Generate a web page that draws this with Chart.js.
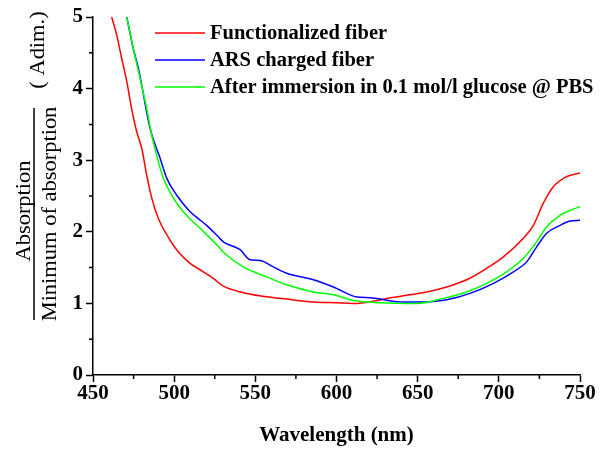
<!DOCTYPE html>
<html>
<head>
<meta charset="utf-8">
<script src="https://cdn.jsdelivr.net/npm/chart.js@4.4.1/dist/chart.umd.min.js"></script>
<style>
  body { margin: 0; background: #fff; }
</style>
</head>
<body>
<canvas id="grafico" width="612" height="449"></canvas>
<script>
var seriesNames = ['Functionalized fiber', 'ARS charged fiber', 'After immersion in 0.1 mol/l glucose @ PBS'];
var seriesColors = ['#ff0000', '#0000ff', '#00ff00'];

// Functionalized fiber
var functWl  = [461.5, 464.6, 467.7, 470.8, 473.8, 476.9, 480.0, 483.1, 486.2, 490.2, 495.4, 502.5, 509.8, 515.9, 524.1, 530.3, 542.6, 554.9, 569.3, 585.7, 600.0, 612.5, 625.0, 630.9, 645.3, 655.6, 667.9, 680.2, 692.5, 702.8, 715.1, 721.3, 727.4, 733.6, 741.8, 746.0, 750.0];
var functVal = [5.00, 4.75, 4.42, 4.10, 3.72, 3.40, 3.17, 2.79, 2.47, 2.19, 1.96, 1.72, 1.56, 1.47, 1.35, 1.24, 1.15, 1.10, 1.06, 1.02, 1.01, 1.00, 1.04, 1.07, 1.12, 1.16, 1.23, 1.33, 1.49, 1.65, 1.91, 2.09, 2.40, 2.63, 2.77, 2.80, 2.82];

// ARS charged fiber
var arsWl  = [470.8, 474.8, 477.9, 485.1, 491.3, 495.4, 501.6, 509.8, 514.5, 520.0, 527.2, 530.3, 540.6, 546.7, 552.9, 561.1, 569.3, 585.7, 598.1, 612.5, 620.6, 626.8, 639.1, 655.6, 667.9, 682.3, 696.7, 709.0, 717.2, 723.3, 729.5, 737.7, 743.9, 750.0];
var arsVal = [5.00, 4.56, 4.29, 3.45, 3.03, 2.75, 2.51, 2.28, 2.19, 2.09, 1.93, 1.86, 1.75, 1.61, 1.60, 1.51, 1.42, 1.33, 1.23, 1.09, 1.08, 1.06, 1.02, 1.02, 1.05, 1.14, 1.28, 1.44, 1.58, 1.79, 1.98, 2.09, 2.15, 2.16];

// After immersion in glucose
var glucWl  = [470.8, 474.8, 479.0, 483.1, 486.2, 489.2, 493.3, 498.5, 505.6, 515.9, 526.2, 531.0, 542.6, 557.0, 569.3, 585.7, 598.1, 610.4, 626.8, 649.4, 665.8, 680.2, 692.5, 704.8, 715.1, 723.3, 729.5, 737.7, 744.0, 750.0];
var glucVal = [5.00, 4.56, 4.14, 3.72, 3.35, 3.07, 2.75, 2.51, 2.28, 2.05, 1.82, 1.70, 1.51, 1.37, 1.26, 1.16, 1.12, 1.04, 1.01, 1.00, 1.07, 1.16, 1.28, 1.44, 1.63, 1.86, 2.07, 2.23, 2.30, 2.35];

var xMinorTicks = [475, 525, 575, 625, 675, 725];
var yMinorTicks = [0.5, 1.5, 2.5, 3.5, 4.5];

function toPoints(wl, val) {
    var pts = [];
    for (var i = 0; i < wl.length; i++) {
        pts.push({ x: wl[i], y: val[i] });
    }
    return pts;
}

Chart.defaults.font.family = '"Liberation Serif", "Times New Roman", serif';
Chart.defaults.color = '#000';

// leyenda dentro del area
var leyenda = {
    id: 'leyenda',
    afterDatasetsDraw: function (chart) {
        var ctx = chart.ctx;
        ctx.save();
        ctx.font = 'bold 20.5px "Liberation Serif"';
        ctx.textBaseline = 'middle';
        ctx.textAlign = 'left';
        chart.data.datasets.forEach(function (ds, i) {
            var y = 33 + i * 27;
            ctx.strokeStyle = ds.borderColor;
            ctx.lineWidth = 1.5;
            ctx.beginPath();
            ctx.moveTo(155, y);
            ctx.lineTo(205, y);
            ctx.stroke();
            ctx.fillStyle = '#000';
            ctx.fillText(ds.label, 210, y + 1);
        });
        ctx.restore();
    }
};

// ticks menores y titulos de ejes
var ejes = {
    id: 'ejes',
    afterDraw: function (chart) {
        var ctx = chart.ctx,
            xs = chart.scales.x,
            ys = chart.scales.y,
            area = chart.chartArea;
        ctx.save();
        ctx.strokeStyle = '#000';
        ctx.lineWidth = 1.5;
        ctx.beginPath();
        xMinorTicks.forEach(function (v) {
            var px = xs.getPixelForValue(v);
            ctx.moveTo(px, area.bottom);
            ctx.lineTo(px, area.bottom + 4);
        });
        yMinorTicks.forEach(function (v) {
            var py = ys.getPixelForValue(v);
            ctx.moveTo(area.left - 4, py);
            ctx.lineTo(area.left, py);
        });
        ctx.stroke();

        // titulo eje x
        ctx.fillStyle = '#000';
        ctx.font = 'bold 21px "Liberation Serif"';
        ctx.textAlign = 'center';
        ctx.textBaseline = 'middle';
        ctx.fillText('Wavelength (nm)', (area.left + area.right) / 2, 436);

        // titulo eje y (fraccion)
        ctx.font = '21px "Liberation Serif"';
        ctx.textBaseline = 'alphabetic';
        ctx.save();
        ctx.translate(30, 211);
        ctx.rotate(-Math.PI / 2);
        ctx.scale(1.07, 1);
        ctx.fillText('Absorption', 0, 0);
        ctx.restore();

        ctx.save();
        ctx.translate(55.5, 214);
        ctx.rotate(-Math.PI / 2);
        ctx.scale(1.07, 1);
        ctx.fillText('Minimum of absorption', 0, 0);
        ctx.restore();

        ctx.save();
        ctx.translate(44, 50);
        ctx.rotate(-Math.PI / 2);
        ctx.scale(1.07, 1);
        ctx.fillText('( Adim.)', 0, 0);
        ctx.restore();

        ctx.lineWidth = 1.5;
        ctx.beginPath();
        ctx.moveTo(34, 108);
        ctx.lineTo(34, 320);
        ctx.stroke();
        ctx.restore();
    }
};

new Chart(document.getElementById('grafico'), {
    type: 'line',
    data: {
        datasets: [{
            label: seriesNames[0],
            data: toPoints(functWl, functVal),
            borderColor: seriesColors[0],
            order: 2
        }, {
            label: seriesNames[1],
            data: toPoints(arsWl, arsVal),
            borderColor: seriesColors[1],
            order: 1
        }, {
            label: seriesNames[2],
            data: toPoints(glucWl, glucVal),
            borderColor: seriesColors[2],
            order: 0
        }]
    },
    options: {
        responsive: false,
        animation: false,
        layout: {
            padding: { left: 0, right: 32, top: 17, bottom: 0 }
        },
        elements: {
            point: { radius: 0 },
            line: { borderWidth: 1.5, cubicInterpolationMode: 'monotone', fill: false }
        },
        scales: {
            x: {
                type: 'linear',
                min: 450,
                max: 750,
                afterFit: function (scale) { scale.height = 74; },
                ticks: {
                    stepSize: 50,
                    padding: 1,
                    font: { size: 21, weight: 'bold', lineHeight: 1 }
                },
                grid: {
                    drawOnChartArea: false,
                    tickLength: 7,
                    tickWidth: 1.5,
                    tickColor: '#000'
                },
                border: { color: '#000', width: 1.5 }
            },
            y: {
                min: 0,
                max: 5,
                afterFit: function (scale) { scale.width = 93; },
                ticks: {
                    stepSize: 1,
                    padding: 3,
                    font: { size: 21, weight: 'bold', lineHeight: 1 }
                },
                grid: {
                    drawOnChartArea: false,
                    tickLength: 7,
                    tickWidth: 1.5,
                    tickColor: '#000'
                },
                border: { color: '#000', width: 1.5 }
            }
        },
        plugins: {
            legend: { display: false },
            tooltip: { enabled: false },
            title: { display: false }
        }
    },
    plugins: [leyenda, ejes]
});
</script>
</body>
</html>
